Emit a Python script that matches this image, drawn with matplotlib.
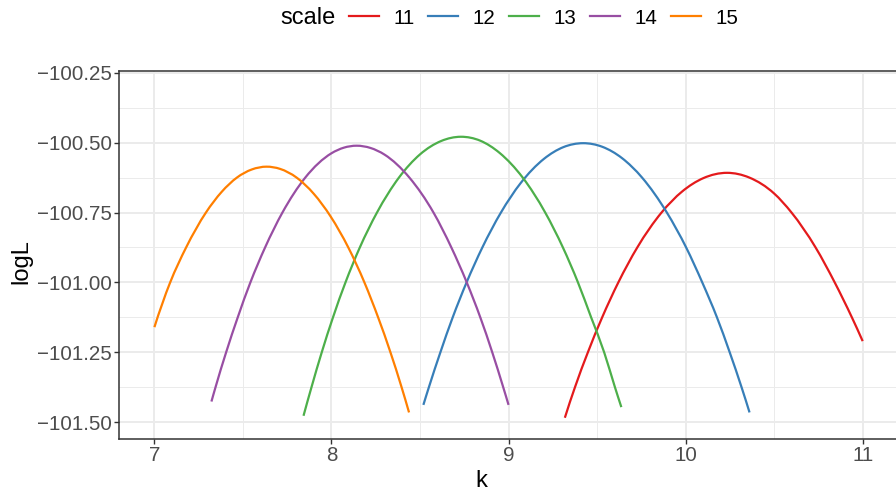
import matplotlib
matplotlib.use("Agg")
import matplotlib.pyplot as plt
from matplotlib.lines import Line2D
from matplotlib.path import Path
from matplotlib.patches import PathPatch
from matplotlib.ticker import FixedLocator, FuncFormatter

plt.rcParams['font.family'] = ['Liberation Sans', 'DejaVu Sans']

# profile log-likelihood over shape k, one curve per scale value
k_11 = [9.318, 9.375, 9.448, 9.528, 9.620, 9.727, 9.864, 9.980, 10.100, 10.234,
        10.360, 10.500, 10.598, 10.734, 10.842, 10.939, 11.000]
logL_11 = [-101.484, -101.375, -101.250, -101.126, -101.000, -100.875, -100.750,
           -100.675, -100.627, -100.608, -100.625, -100.682, -100.750, -100.875,
           -101.000, -101.125, -101.210]

k_12 = [8.519, 8.550, 8.615, 8.684, 8.763, 8.852, 8.957, 9.068, 9.200, 9.310,
        9.421, 9.530, 9.640, 9.754, 9.894, 10.003, 10.094, 10.177, 10.249, 10.316,
        10.361]
logL_12 = [-101.438, -101.375, -101.250, -101.126, -101.000, -100.875, -100.750,
           -100.645, -100.558, -100.516, -100.502, -100.515, -100.555, -100.625,
           -100.750, -100.875, -101.000, -101.125, -101.250, -101.375, -101.465]

k_13 = [7.842, 7.887, 7.945, 8.008, 8.079, 8.160, 8.257, 8.381, 8.500, 8.620,
        8.730, 8.840, 8.950, 9.080, 9.207, 9.307, 9.392, 9.467, 9.540, 9.601,
        9.637]
logL_13 = [-101.477, -101.375, -101.250, -101.126, -101.000, -100.875, -100.750,
           -100.625, -100.542, -100.494, -100.479, -100.493, -100.537, -100.625,
           -100.750, -100.875, -101.000, -101.126, -101.250, -101.375, -101.446]

k_14 = [7.322, 7.345, 7.405, 7.470, 7.542, 7.625, 7.723, 7.852, 8.000, 8.070,
        8.142, 8.220, 8.300, 8.440, 8.576, 8.677, 8.764, 8.841, 8.908, 8.970,
        9.000]
logL_14 = [-101.426, -101.375, -101.250, -101.126, -101.000, -100.875, -100.750,
           -100.625, -100.538, -100.518, -100.511, -100.519, -100.543, -100.625,
           -100.750, -100.875, -101.000, -101.126, -101.250, -101.375, -101.438]

k_15 = [7.000, 7.089, 7.179, 7.291, 7.380, 7.466, 7.550, 7.633, 7.710, 7.803,
        7.900, 7.996, 8.095, 8.186, 8.264, 8.333, 8.396, 8.438]
logL_15 = [-101.160, -101.000, -100.875, -100.750, -100.676, -100.625, -100.596,
           -100.586, -100.594, -100.625, -100.683, -100.765, -100.875, -101.000,
           -101.126, -101.250, -101.375, -101.465]

scale_labels = ['11', '12', '13', '14', '15']
series_k = [k_11, k_12, k_13, k_14, k_15]
series_logL = [logL_11, logL_12, logL_13, logL_14, logL_15]
colors = ['#E41A1C', '#377EB8', '#4DAF4A', '#984EA3', '#FF7F00']

x_major = [7, 8, 9, 10, 11]
x_minor = [7.5, 8.5, 9.5, 10.5]
y_major = [-100.25, -100.50, -100.75, -101.00, -101.25, -101.50]
y_minor = [-100.375, -100.625, -100.875, -101.125, -101.375]


def smooth_path(xs, ys):
    """Cubic Bezier path through the given points (Hermite tangents in x)."""
    n = len(xs)
    h = [xs[i + 1] - xs[i] for i in range(n - 1)]
    d = [(ys[i + 1] - ys[i]) / h[i] for i in range(n - 1)]
    m = [0.0] * n
    for i in range(1, n - 1):
        m[i] = (h[i] * d[i - 1] + h[i - 1] * d[i]) / (h[i - 1] + h[i])
    m[0] = ((2 * h[0] + h[1]) * d[0] - h[0] * d[1]) / (h[0] + h[1])
    m[-1] = ((2 * h[-1] + h[-2]) * d[-1] - h[-1] * d[-2]) / (h[-1] + h[-2])
    verts = [(xs[0], ys[0])]
    codes = [Path.MOVETO]
    for i in range(n - 1):
        t = h[i] / 3
        verts += [(xs[i] + t, ys[i] + m[i] * t),
                  (xs[i + 1] - t, ys[i + 1] - m[i + 1] * t),
                  (xs[i + 1], ys[i + 1])]
        codes += [Path.CURVE4] * 3
    return Path(verts, codes)


W, H = 896, 491
fig = plt.figure(figsize=(W / 100, H / 100), dpi=100)
left, right, top, bottom = 119, 898.1, 70.5, 439
ax = fig.add_axes([left / W, 1 - bottom / H, (right - left) / W, (bottom - top) / H])

for ks, ys, c in zip(series_k, series_logL, colors):
    ax.add_patch(PathPatch(smooth_path(ks, ys), facecolor='none', edgecolor=c,
                           lw=1.6, capstyle='butt', joinstyle='round', zorder=3))

ax.set_xlim(6.8, 11.2)
ax.set_ylim(-101.560, -100.242)

ax.xaxis.set_major_locator(FixedLocator(x_major))
ax.xaxis.set_minor_locator(FixedLocator(x_minor))
ax.yaxis.set_major_locator(FixedLocator(y_major))
ax.yaxis.set_minor_locator(FixedLocator(y_minor))
ax.xaxis.set_major_formatter(FuncFormatter(lambda v, p: f"{v:g}"))
ax.yaxis.set_major_formatter(FuncFormatter(lambda v, p: f"{v:.2f}".replace('-', '\u2212')))

ax.grid(True, which='major', color='#EBEBEB', lw=1.4, zorder=0)
ax.grid(True, which='minor', color='#EBEBEB', lw=0.7, zorder=0)
ax.set_axisbelow(True)

for s in ax.spines.values():
    s.set_color('#333333')
    s.set_linewidth(1.1)

ax.tick_params(which='major', length=3.6, width=1.0, color='#333333',
               labelsize=14.8, labelcolor='#4D4D4D', pad=1.5)
ax.tick_params(which='minor', length=0)

ax.set_xlabel('k', fontsize=17, color='black')
ax.set_ylabel('logL', fontsize=17, color='black')
ax.xaxis.set_label_coords((481 - left) / (right - left), -(487 - bottom) / (bottom - top))
ax.yaxis.set_label_coords(-(119 - 21) / (right - left), (bottom - 262) / (bottom - top))
ax.xaxis.label.set_va('baseline')
ax.yaxis.label.set_va('center')

handles = [Line2D([], [], color=c, lw=1.6) for c in colors]
fig.legend(handles, scale_labels, ncol=5, frameon=False, loc='center',
           bbox_to_anchor=(543.5 / W, 1 - 18 / H), fontsize=14.8,
           handlelength=1.45, handletextpad=0.7, columnspacing=0.68,
           borderpad=0, borderaxespad=0)
fig.text(280 / W, 1 - 18 / H, 'scale', fontsize=17, ha='left', va='center')

fig.savefig('out.png', dpi=100)
